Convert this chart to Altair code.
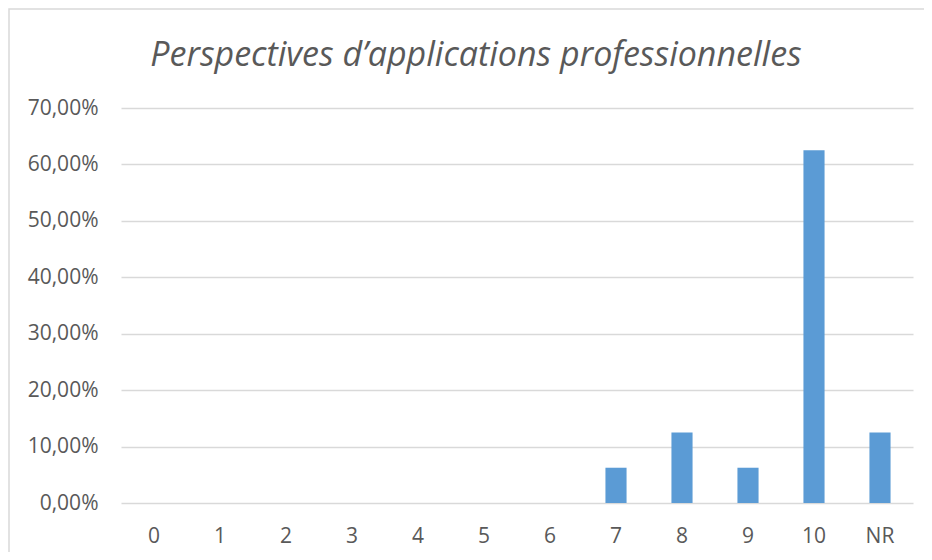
import altair as alt
import pandas as pd

categories = ["0", "1", "2", "3", "4", "5", "6", "7", "8", "9", "10", "NR"]
values = [0, 0, 0, 0, 0, 0, 0, 0.0625, 0.125, 0.0625, 0.625, 0.125]
y_ticks = [0, 0.1, 0.2, 0.3, 0.4, 0.5, 0.6, 0.7]
title_text = "Perspectives d\u2019applications professionnelles"

df = pd.DataFrame({"cat": categories, "val": values})

FONT = "Open Sans"
TXT = "#595959"
GRID = "#D9D9D9"

bars = alt.Chart(df).mark_bar(color="#5B9BD5").encode(
    x=alt.X("cat:N", sort=categories,
            scale=alt.Scale(paddingInner=0.68, paddingOuter=0.34),
            axis=alt.Axis(title=None, labelAngle=0, domain=False, ticks=False,
                          labelFont=FONT, labelFontSize=21, labelColor=TXT,
                          labelBaseline="alphabetic", labelPadding=39)),
    y=alt.Y("val:Q", scale=alt.Scale(domain=[0, 0.7], nice=False),
            axis=alt.Axis(title=None, values=y_ticks, domain=False, ticks=False,
                          labelExpr="replace(format(datum.value, '.2%'), '.', ',')",
                          labelFont=FONT, labelFontSize=21, labelColor=TXT,
                          labelPadding=23, gridColor=GRID, gridWidth=1.5)),
)

border = alt.Chart(pd.DataFrame({"a": [0]})).mark_rect(
    fill=None, stroke=GRID, strokeWidth=1.5
).encode(x=alt.value(-112), x2=alt.value(830), y=alt.value(-99), y2=alt.value(470))

chart = alt.layer(border, bars).properties(
    width=792, height=395,
    autosize=alt.AutoSizeParams(type="none"),
    padding={"left": 113, "top": 100, "right": 11, "bottom": 49},
    title=alt.TitleParams(title_text, font=FONT, fontSize=34, fontStyle="italic",
                          fontWeight="normal", color=TXT, anchor="middle",
                          frame="group", dx=-41, offset=-92, baseline="alphabetic"),
).configure_view(stroke=None)

chart.save("out.html", embed_options={"renderer": "svg", "actions": False})
